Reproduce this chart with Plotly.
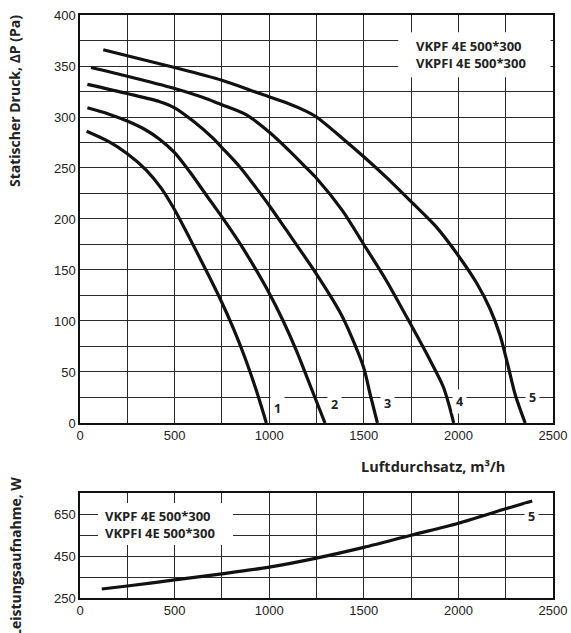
import plotly.graph_objects as go

# ---- data ----
c1_x = [35, 150, 250, 350, 430, 500, 580, 660, 740, 810, 870, 930, 985]
c1_y = [286, 276, 264, 248, 230, 209, 181, 152, 122, 93, 65, 33, 0]

c2_x = [39, 150, 250, 350, 422, 500, 581, 669, 750, 845, 915, 1001, 1074, 1146, 1214, 1295]
c2_y = [309, 303, 296, 287, 278, 265, 246, 223, 202, 176, 155, 127, 100, 70, 38, 0]

c3_x = [39, 250, 422, 500, 598, 704, 750, 845, 933, 1001, 1091, 1250, 1373, 1432, 1500, 1535, 1572]
c3_y = [332, 323, 315, 309, 296, 279, 270, 251, 230, 213, 189, 146, 109, 86, 54, 27, 0]

c4_x = [58, 250, 500, 669, 750, 880, 1001, 1100, 1197, 1250, 1388, 1500, 1618, 1750, 1849, 1919, 1950, 1975]
c4_y = [348.5, 340, 328, 318, 312, 302, 285, 268, 250, 240, 208, 175, 140, 96, 62, 36, 18, 0]

c5_x = [123, 250, 500, 750, 950, 1091, 1197, 1250, 1388, 1500, 1618, 1750, 1884, 2000, 2097, 2167, 2220, 2260, 2300, 2353]
c5_y = [366, 360, 348.5, 336, 323, 314, 305.5, 300, 279, 261, 241, 217, 192, 164, 137, 112, 86, 58, 28, 0]

p_x = [115, 250, 500, 750, 1000, 1250, 1500, 1750, 2000, 2250, 2390]
p_y = [293, 307, 336, 365, 397, 440, 491, 549, 606, 675, 712]

curve_labels = ["1", "2", "3", "4", "5"]
label_x = [1042, 1344, 1624, 2005, 2392]
label_y = [14, 18, 19, 21, 25]

model_text = "VKPF 4E 500*300<br>VKPFI 4E 500*300"
x_ticks = [0, 500, 1000, 1500, 2000, 2500]
y_ticks_top = [0, 50, 100, 150, 200, 250, 300, 350, 400]
y_ticks_bot = [250, 450, 650]
x_grid = list(range(0, 2501, 250))
y_grid_top = list(range(0, 401, 25))
y_grid_bot = list(range(250, 751, 100))

TICKFONT = dict(family="Liberation Sans, Arial", size=13, color="#222")
BOLD = "Open Sans, Liberation Sans"
GRID = "#2a2a2a"


def labels(grid, shown):
    return [str(v) if v in shown else "" for v in grid]


fig = go.Figure()
for xs, ys in [(c1_x, c1_y), (c2_x, c2_y), (c3_x, c3_y), (c4_x, c4_y), (c5_x, c5_y)]:
    fig.add_trace(go.Scatter(x=xs, y=ys, mode="lines",
                             line=dict(color="#111", width=3.2, shape="spline", smoothing=0.8),
                             xaxis="x", yaxis="y", showlegend=False, hoverinfo="skip"))
fig.add_trace(go.Scatter(x=p_x, y=p_y, mode="lines",
                         line=dict(color="#111", width=3.2, shape="spline", smoothing=0.8),
                         xaxis="x2", yaxis="y2", showlegend=False, hoverinfo="skip"))

ax_common = dict(showline=True, linecolor="#111", linewidth=1.5, mirror=True,
                 ticks="", showgrid=True, gridcolor=GRID, gridwidth=1.2, zeroline=False,
                 tickfont=TICKFONT, tickmode="array", automargin=False, ticklabeloverflow="allow")

fig.update_layout(
    width=571, height=633, margin=dict(l=80, r=18, t=15, b=35, autoexpand=False),
    plot_bgcolor="white", paper_bgcolor="white", showlegend=False,
    xaxis=dict(domain=[0, 1], range=[0, 2500], tickvals=x_grid, ticktext=labels(x_grid, x_ticks),
               anchor="y", **ax_common),
    yaxis=dict(domain=[0.3002, 1.0], range=[0, 400], tickvals=y_grid_top,
               ticktext=labels(y_grid_top, y_ticks_top), anchor="x", **ax_common),
    xaxis2=dict(domain=[0, 1], range=[0, 2500], tickvals=x_grid, ticktext=labels(x_grid, x_ticks),
                anchor="y2", **ax_common),
    yaxis2=dict(domain=[0, 0.1801], range=[250, 750], tickvals=y_grid_bot,
                ticktext=labels(y_grid_bot, y_ticks_bot), anchor="x2", **ax_common),
)

# white boxes behind model names
fig.add_shape(type="rect", xref="x", yref="y", x0=1682, x1=2487, y0=339, y1=383,
              fillcolor="white", line=dict(width=0), layer="above")
fig.add_shape(type="rect", xref="x2", yref="y2", x0=95, x1=809, y0=502, y1=702,
              fillcolor="white", line=dict(width=0), layer="above")

fig.add_annotation(x=1765, y=361, xref="x", yref="y", text="<b>" + model_text + "</b>", showarrow=False,
                   xanchor="left", yanchor="middle", align="left",
                   font=dict(family=BOLD, size=13, color="#222"))
fig.add_annotation(x=120, y=602, xref="x2", yref="y2", text="<b>" + model_text + "</b>", showarrow=False,
                   xanchor="left", yanchor="middle", align="left",
                   font=dict(family=BOLD, size=13, color="#222"))

for t, lx, ly in zip(curve_labels, label_x, label_y):
    fig.add_annotation(x=lx, y=ly, xref="x", yref="y", text="<b>" + t + "</b>", showarrow=False,
                       bgcolor="white", borderpad=3, font=dict(family=BOLD, size=12.5, color="#222"))
fig.add_annotation(x=2388, y=637, xref="x2", yref="y2", text="<b>5</b>", showarrow=False,
                   bgcolor="white", borderpad=3, font=dict(family=BOLD, size=12.5, color="#222"))

# axis titles (the lower one runs off the bottom edge, as in the reference)
fig.add_annotation(x=(15 - 80) / 473, y=(598 - 13) / 583, xref="paper", yref="paper",
                   text="<b>Statischer Druck, ΔP (Pa)</b>", textangle=-90, showarrow=False,
                   xanchor="center", yanchor="top", font=dict(family=BOLD, size=14, color="#222"))
fig.add_annotation(x=(507 - 80) / 473, y=(598 - 466) / 583, xref="paper", yref="paper",
                   text="<b>Luftdurchsatz, m³/h</b>", showarrow=False,
                   xanchor="right", yanchor="middle", font=dict(family=BOLD, size=14.5, color="#222"))
fig.add_annotation(x=(15 - 80) / 473, y=(598 - 475) / 583, xref="paper", yref="paper",
                   text="<b>Leistungsaufnahme, W</b>", textangle=-90, showarrow=False,
                   xanchor="center", yanchor="top", font=dict(family=BOLD, size=14, color="#222"))

# remove the browser's default 8px page margin so the 571x633 figure fills the window
fig.write_html("out.html", config={"displayModeBar": False},
               post_script="document.body.style.margin='0';document.body.style.overflow='hidden';")
